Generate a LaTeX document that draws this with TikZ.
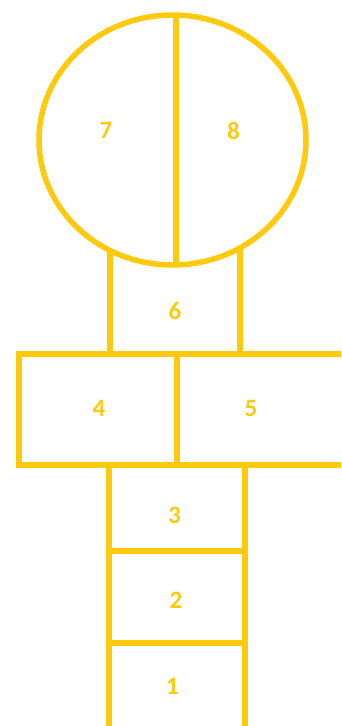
\documentclass[tikz,border=0pt]{standalone}
\usepackage{fontspec}
\setmainfont{Carlito}
\definecolor{gold}{RGB}{255, 201, 14}

\begin{document}
\begin{tikzpicture}[x=1pt, y=-1pt, line width=5.5pt,
                    chalk/.style={draw=gold},
                    every node/.style={font=\fontsize{25}{30}\selectfont\bfseries, text=gold}]
                    \clip (0,0) rectangle (341,726);

                    \draw[chalk] (172.5,140) ellipse [x radius=133.5, y radius=125];
                    \draw[chalk] (176,15) -- (176,265);
                    \draw[chalk] (110,250) -- (110,354) (240,248) -- (240,354);
                    \draw[chalk] (19,354) rectangle (350,465);
                    \draw[chalk] (177,354) -- (177,465);
                    \draw[chalk] (109,465) -- (109,740) (245,465) -- (245,740);
                    \draw[chalk] (109,551) -- (245,551) (109,643) -- (245,643);

                    \node (n7) at (106,130) {7};
                    \node (n8) at (233.5,131) {8};
                    \node (n6) at (175,311) {6};
                    \node (n4) at (99,408) {4};
                    \node (n5) at (251,408) {5};
                    \node (n3) at (174.5,515.5) {3};
                    \node (n2) at (176,600) {2};
                    \node (n1) at (172.5,686.5) {1};
                \end{tikzpicture}
\end{document}
